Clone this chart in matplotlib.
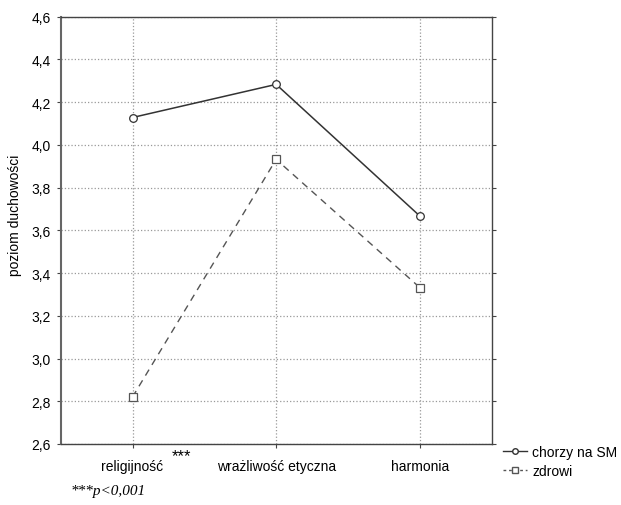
import matplotlib
matplotlib.use("Agg")
from matplotlib import pyplot as plt

categories = ["religijność", "wrażliwość etyczna", "harmonia"]
chorzy = [4.128, 4.283, 3.667]
zdrowi = [2.82, 3.932, 3.332]
series_labels = ["chorzy na SM", "zdrowi"]
y_ticks = [2.6, 2.8, 3.0, 3.2, 3.4, 3.6, 3.8, 4.0, 4.2, 4.4, 4.6]

plt.rcParams['font.family'] = ['Liberation Sans', 'DejaVu Sans']

fig = plt.figure(figsize=(6.21, 5.06), dpi=100)
ax = fig.add_axes([0.0977, 0.1206, 0.694, 0.8445])

x = list(range(len(categories)))
ax.plot(x, chorzy, color='#333333', lw=1.1, ls='-', marker='o', ms=5.5,
        mfc='white', mec='#333333', mew=0.9, label=series_labels[0], zorder=3)
ax.plot(x, zdrowi, color='#555555', lw=1.0, ls=(0, (5, 4)), marker='s', ms=5.2,
        mfc='white', mec='#555555', mew=0.9, label=series_labels[1], zorder=3)

ax.set_xlim(-0.5, 2.5)
ax.set_ylim(2.6, 4.6)
ax.set_xticks(x)
ax.set_xticklabels(categories, fontsize=10)
ax.set_yticks(y_ticks)
ax.set_yticklabels([f"{v:.1f}".replace(".", ",") for v in y_ticks], fontsize=10)
ax.tick_params(axis='both', direction='out', length=3, width=0.8, color='#444444')
ax.tick_params(axis='x', pad=8)
ax.tick_params(axis='y', pad=4, right=True)

ax.grid(True, color='#999999', ls=':', lw=0.9)
for side in ['left', 'right', 'top', 'bottom']:
    ax.spines[side].set_color('#444444')
    ax.spines[side].set_linewidth(1.0)
ax.spines['left'].set_color('#666666')
ax.spines['left'].set_linewidth(1.5)

fig.text(0.024, 0.575, "poziom duchowości", rotation=90, fontsize=10,
         ha='center', va='center')
fig.text(0.293, 0.097, "***", fontsize=12, ha='center', va='center')
fig.text(0.234, 0.016, "***p<0,001", fontsize=11, style='italic',
         family='Liberation Serif', ha='right', va='bottom')

fig.legend(handles=[
    plt.Line2D([], [], color='#333333', lw=1.0, marker='o', ms=4, mfc='white',
               mec='#333333'),
    plt.Line2D([], [], color='#555555', lw=1.0, ls=(0, (2, 2)), marker='s', ms=4,
               mfc='white', mec='#555555')],
    labels=series_labels, loc='center left', bbox_to_anchor=(0.81, 0.086),
    frameon=False, fontsize=10, handlelength=1.7, handletextpad=0.4,
    labelspacing=0.35, borderaxespad=0, borderpad=0)

fig.savefig("out.png", dpi=100)
